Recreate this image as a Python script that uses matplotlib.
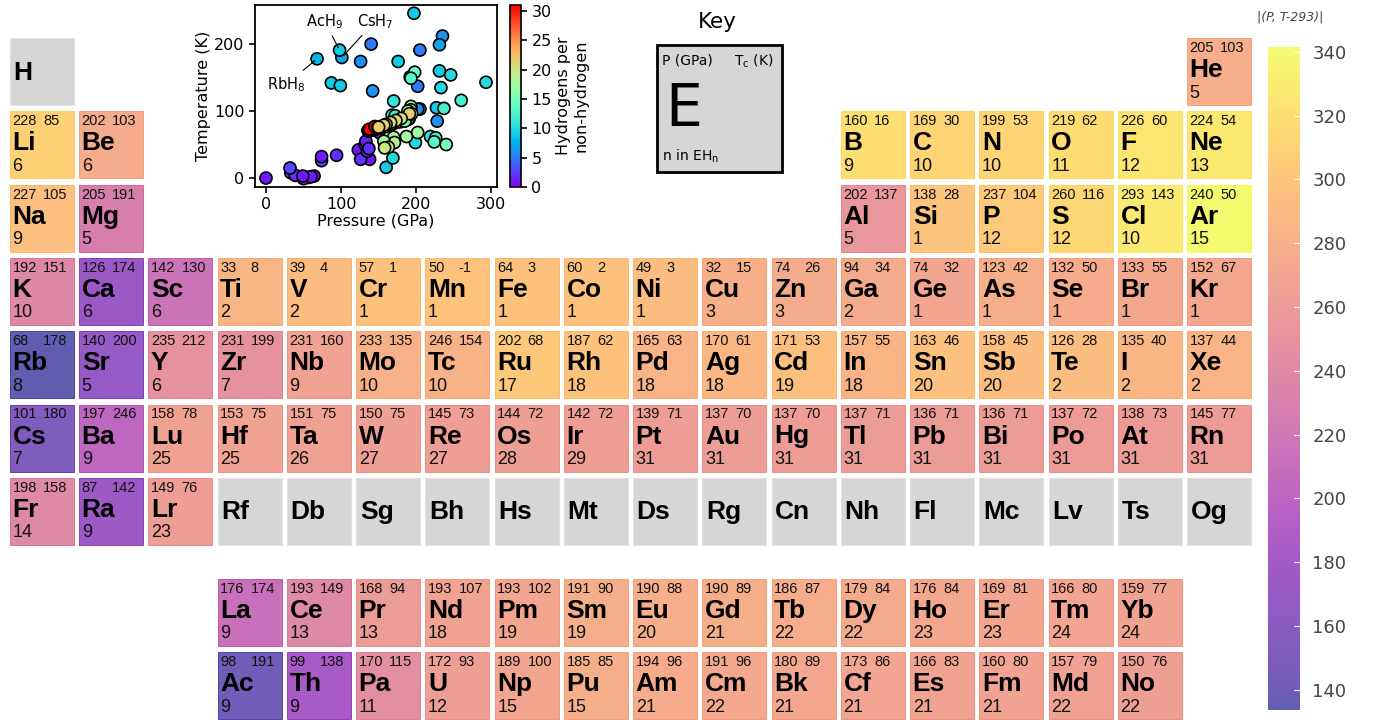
import numpy as np
import matplotlib
matplotlib.use("Agg")
import matplotlib.pyplot as plt
from matplotlib import colors, cm
from matplotlib.patches import Rectangle

# periodic table layout ('.' = empty slot)
main_rows = [
    "H . . . . . . . . . . . . . . . . He",
    "Li Be . . . . . . . . . . B C N O F Ne",
    "Na Mg . . . . . . . . . . Al Si P S Cl Ar",
    "K Ca Sc Ti V Cr Mn Fe Co Ni Cu Zn Ga Ge As Se Br Kr",
    "Rb Sr Y Zr Nb Mo Tc Ru Rh Pd Ag Cd In Sn Sb Te I Xe",
    "Cs Ba Lu Hf Ta W Re Os Ir Pt Au Hg Tl Pb Bi Po At Rn",
    "Fr Ra Lr Rf Db Sg Bh Hs Mt Ds Rg Cn Nh Fl Mc Lv Ts Og",
]
f_rows = [
    "La Ce Pr Nd Pm Sm Eu Gd Tb Dy Ho Er Tm Yb",
    "Ac Th Pa U Np Pu Am Cm Bk Cf Es Fm Md No",
]

# best hydride per element: pressure (GPa), Tc (K), n in EH_n
symbols = ["He",
           "Li", "Be", "B", "C", "N", "O", "F", "Ne",
           "Na", "Mg", "Al", "Si", "P", "S", "Cl", "Ar",
           "K", "Ca", "Sc", "Ti", "V", "Cr", "Mn", "Fe", "Co", "Ni", "Cu", "Zn",
           "Ga", "Ge", "As", "Se", "Br", "Kr",
           "Rb", "Sr", "Y", "Zr", "Nb", "Mo", "Tc", "Ru", "Rh", "Pd", "Ag", "Cd",
           "In", "Sn", "Sb", "Te", "I", "Xe",
           "Cs", "Ba", "Lu", "Hf", "Ta", "W", "Re", "Os", "Ir", "Pt", "Au", "Hg",
           "Tl", "Pb", "Bi", "Po", "At", "Rn",
           "Fr", "Ra", "Lr",
           "La", "Ce", "Pr", "Nd", "Pm", "Sm", "Eu", "Gd", "Tb", "Dy", "Ho", "Er", "Tm", "Yb",
           "Ac", "Th", "Pa", "U", "Np", "Pu", "Am", "Cm", "Bk", "Cf", "Es", "Fm", "Md", "No"]
pressure = [205,
            228, 202, 160, 169, 199, 219, 226, 224,
            227, 205, 202, 138, 237, 260, 293, 240,
            192, 126, 142, 33, 39, 57, 50, 64, 60, 49, 32, 74,
            94, 74, 123, 132, 133, 152,
            68, 140, 235, 231, 231, 233, 246, 202, 187, 165, 170, 171,
            157, 163, 158, 126, 135, 137,
            101, 197, 158, 153, 151, 150, 145, 144, 142, 139, 137, 137,
            137, 136, 136, 137, 138, 145,
            198, 87, 149,
            176, 193, 168, 193, 193, 191, 190, 190, 186, 179, 176, 169, 166, 159,
            98, 99, 170, 172, 189, 185, 194, 191, 180, 173, 166, 160, 157, 150]
tc = [103,
      85, 103, 16, 30, 53, 62, 60, 54,
      105, 191, 137, 28, 104, 116, 143, 50,
      151, 174, 130, 8, 4, 1, -1, 3, 2, 3, 15, 26,
      34, 32, 42, 50, 55, 67,
      178, 200, 212, 199, 160, 135, 154, 68, 62, 63, 61, 53,
      55, 46, 45, 28, 40, 44,
      180, 246, 78, 75, 75, 75, 73, 72, 72, 71, 70, 70,
      71, 71, 71, 72, 73, 77,
      158, 142, 76,
      174, 149, 94, 107, 102, 90, 88, 89, 87, 84, 84, 81, 80, 77,
      191, 138, 115, 93, 100, 85, 96, 96, 89, 86, 83, 80, 79, 76]
n_h = [5,
       6, 6, 9, 10, 10, 11, 12, 13,
       9, 5, 5, 1, 12, 12, 10, 15,
       10, 6, 6, 2, 2, 1, 1, 1, 1, 1, 3, 3,
       2, 1, 1, 1, 1, 1,
       8, 5, 6, 7, 9, 10, 10, 17, 18, 18, 18, 19,
       18, 20, 20, 2, 2, 2,
       7, 9, 25, 25, 26, 27, 27, 28, 29, 31, 31, 31,
       31, 31, 31, 31, 31, 31,
       14, 9, 23,
       9, 13, 13, 18, 19, 19, 20, 21, 22, 22, 23, 23, 24, 24,
       9, 9, 11, 12, 15, 15, 21, 22, 21, 21, 21, 21, 22, 22]

# hydrogen itself, only shown in the scatter
h_pressure = [0]
h_tc = [0]
h_n = [1]

pressure = np.array(pressure, float)
tc = np.array(tc, float)
n_h = np.array(n_h, float)
dist = np.hypot(pressure, tc - 293)

cmap = plt.get_cmap("plasma")
norm = colors.Normalize(vmin=dist.min(), vmax=dist.max())
ALPHA = 0.65
# plasma washed over white, for the colorbar
wash = cmap(np.linspace(0, 1, 256))
wash[:, :3] = ALPHA * wash[:, :3] + (1 - ALPHA)
wash_cmap = colors.ListedColormap(wash)

fig = plt.figure(figsize=(13.75, 7.2), dpi=100)
ax = fig.add_axes([0, 0, 1, 1])
ax.set_xlim(0, 1375)
ax.set_ylim(720, 0)
ax.axis("off")

# cell geometry in pixels
X0, DX, CW = 10, 69.25, 64
Y0, DY, CH = 38, 73.3, 67
F_Y0 = 579
CELL_FONT = "Liberation Sans"
GRAY = "#d6d6d6"

lookup = {s: i for i, s in enumerate(symbols)}


def draw_cell(sym, x, y):
    if sym in lookup:
        i = lookup[sym]
        c = cmap(norm(dist[i]))
        ax.add_patch(Rectangle((x, y), CW, CH, facecolor=c, edgecolor=c,
                               lw=0.7, alpha=ALPHA))
        ax.text(x + 2.5, y + 10, "%d" % pressure[i], fontsize=10.5, family=CELL_FONT,
                va="center", ha="left", color="#111")
        ax.text(x + 33, y + 10, "%d" % tc[i], fontsize=10.5, family=CELL_FONT,
                va="center", ha="left", color="#111")
        ax.text(x + 2.5, y + 32, sym, fontsize=19, family=CELL_FONT, weight="bold",
                va="center", ha="left", color="black")
        ax.text(x + 2.5, y + 55, "%d" % n_h[i], fontsize=13, family=CELL_FONT,
                va="center", ha="left", color="#111")
    else:
        ax.add_patch(Rectangle((x, y), CW, CH, facecolor=GRAY, edgecolor="#e2e2e2",
                               lw=0.7))
        ax.text(x + 3.5, y + CH / 2 + 1, sym, fontsize=19, family=CELL_FONT,
                weight="bold", va="center", ha="left", color="black")


for r, row in enumerate(main_rows):
    for c, sym in enumerate(row.split()):
        if sym != ".":
            draw_cell(sym, X0 + c * DX, Y0 + r * DY)

for r, row in enumerate(f_rows):
    for c, sym in enumerate(row.split()):
        draw_cell(sym, X0 + (c + 3) * DX, F_Y0 + r * DY)

# key
ax.text(717, 22, "Key", fontsize=15.5, ha="center", va="center")
ax.add_patch(Rectangle((657, 45), 125, 127, facecolor=GRAY, edgecolor="black", lw=2))
ax.text(662, 61, "P (GPa)", fontsize=10, ha="left", va="center")
ax.text(734, 61, "T$_\\mathregular{c}$ (K)", fontsize=10, ha="left", va="center")
ax.text(665, 110, "E", fontsize=42, ha="left", va="center")
ax.text(662, 156, "n in EH$_\\mathregular{n}$", fontsize=10, ha="left", va="center")

# colorbar for the cells
cax = fig.add_axes([1268 / 1375, 10 / 720, 32 / 1375, 663 / 720])
cb = fig.colorbar(cm.ScalarMappable(norm=norm, cmap=wash_cmap), cax=cax,
                  ticks=np.arange(140, 341, 20))
cb.outline.set_visible(False)
cax.tick_params(direction="in", length=4, color="white", labelsize=13,
                labelcolor="#444", pad=9)
fig.text(1290 / 1375, 1 - 17 / 720, "|(P, T-293)|", fontsize=9, style="italic",
         color="#444", ha="center", va="center")

# inset scatter of all hydrides
axi = fig.add_axes([255 / 1375, 1 - 187 / 720, 242 / 1375, 182 / 720])
sp = np.concatenate([h_pressure, pressure])
st = np.concatenate([h_tc, tc])
sn = np.concatenate([h_n, n_h])
sc = axi.scatter(sp, st, c=sn, cmap="rainbow", vmin=0, vmax=31, s=75,
                 edgecolors="black", linewidths=1.2, zorder=3)
axi.set_xticks([0, 100, 200, 300])
axi.set_yticks([0, 100, 200])
axi.tick_params(labelsize=11.5, width=1.2, length=4)
for s in axi.spines.values():
    s.set_linewidth(1.3)
axi.set_xlabel("Pressure (GPa)", fontsize=11.5, labelpad=1)
axi.set_ylabel("Temperature (K)", fontsize=11.5, labelpad=2)

ann = dict(arrowstyle="-", color="black", lw=0.8)
axi.annotate("AcH$_9$", xy=(98, 191), xytext=(78, 234), fontsize=10.5,
             ha="center", va="center", arrowprops=ann, zorder=4)
axi.annotate("CsH$_7$", xy=(101, 180), xytext=(145, 234), fontsize=10.5,
             ha="center", va="center", arrowprops=ann, zorder=4)
axi.annotate("RbH$_8$", xy=(68, 178), xytext=(27, 140), fontsize=10.5,
             ha="center", va="center", arrowprops=ann, zorder=4)

cax2 = fig.add_axes([510 / 1375, 1 - 187 / 720, 11 / 1375, 182 / 720])
cb2 = fig.colorbar(sc, cax=cax2, ticks=np.arange(0, 31, 5))
cb2.outline.set_linewidth(1.2)
cax2.tick_params(labelsize=11.5, width=1.2, length=4)
cb2.set_label("Hydrogens per\nnon-hydrogen", fontsize=11.5, labelpad=3)

fig.savefig("out.png", dpi=100)
